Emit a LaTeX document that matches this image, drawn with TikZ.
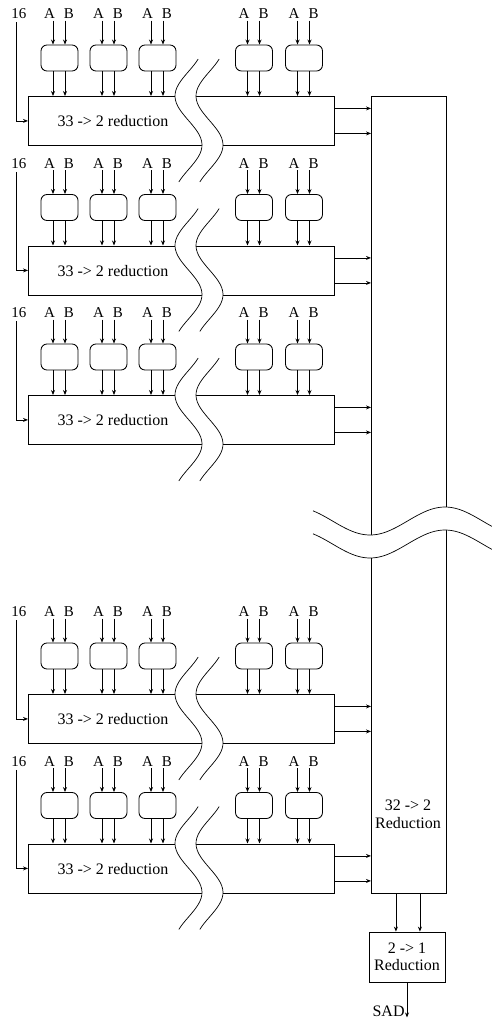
\documentclass[tikz,border=0pt]{standalone}
\usepackage{fontspec}
\setmainfont{Liberation Serif}
\usetikzlibrary{arrows.meta,calc}
\begin{document}
\begin{tikzpicture}[x=1pt,y=-1pt,
  line width=0.85pt,
  arr/.style={-{Stealth[length=5pt,width=4pt]}},
  lbl/.style={font=\fontsize{16}{18}\selectfont, inner sep=0pt},
  io/.style={font=\fontsize{15}{18}\selectfont, inner sep=0pt},
  pe/.style={draw, rounded corners=6pt, minimum width=37pt, minimum height=26pt, inner sep=0pt},
  redbox/.style={draw, minimum width=306pt, minimum height=49pt, inner sep=0pt},
  brk/.style={line width=0.7pt},
]
\useasboundingbox (0,0) rectangle (492,1020);
% 32 -> 2 reduction column
\node[draw, minimum width=75pt, minimum height=797pt, anchor=north west, inner sep=0pt] (vbox) at (371,96) {};
\node[lbl, align=center] (vtxt) at (408,814) {32 -> 2\\Reduction};
% blocks
\foreach \T [count=\i] in {96,245.5,395,694,843.5} {
  \node[redbox, anchor=north west] (red-\i) at (28,\T) {};
  \node[lbl] (rt-\i) at (113,\T+25.5) {33 -> 2 reduction};
  \node[io] (n16-\i) at (19,\T-82) {16};
  \draw[arr] ($(n16-\i.south)+(-3,3)$) |- (red-\i.west);
  \foreach \c [count=\j] in {59.5,108.5,157.5,254,304} {
    \node[pe] (pe-\i-\j) at (\c,\T-38) {};
    \node[io] (a-\i-\j) at (\c-10,\T-82) {A};
    \node[io] (b-\i-\j) at (\c+9.5,\T-82) {B};
    \coordinate (as-\i-\j) at ($(pe-\i-\j.north)+(-6.5,-24)$);
    \coordinate (bs-\i-\j) at ($(pe-\i-\j.north)+(5.5,-24)$);
    \draw[arr] (as-\i-\j) -- (as-\i-\j |- pe-\i-\j.north);
    \draw[arr] (bs-\i-\j) -- (bs-\i-\j |- pe-\i-\j.north);
    \coordinate (pl-\i-\j) at ($(pe-\i-\j.south)+(-6.5,0)$);
    \coordinate (pr-\i-\j) at ($(pe-\i-\j.south)+(5.5,0)$);
    \draw[arr] (pl-\i-\j) -- (pl-\i-\j |- red-\i.north);
    \draw[arr] (pr-\i-\j) -- (pr-\i-\j |- red-\i.north);
  }
  % outputs to the 32 -> 2 column
  \coordinate (o1-\i) at ($(red-\i.east)+(0,-12.5)$);
  \coordinate (o2-\i) at ($(red-\i.east)+(0,12.5)$);
  \draw[arr] (o1-\i) -- (o1-\i -| vbox.west);
  \draw[arr] (o2-\i) -- (o2-\i -| vbox.west);
  % break marks
  \fill[white] plot[domain=-37:86,samples=40,variable=\t] ({188.5-13.5*cos(3.6735*\t)},{\T+\t})
     -- plot[domain=86:-37,samples=40,variable=\t] ({209.5-13.5*cos(3.6735*\t)},{\T+\t}) -- cycle;
  \draw[brk] plot[domain=-37:86,samples=40,variable=\t,smooth] ({188.5-13.5*cos(3.6735*\t)},{\T+\t});
  \draw[brk] plot[domain=-37:86,samples=40,variable=\t,smooth] ({209.5-13.5*cos(3.6735*\t)},{\T+\t});
}
% break of the column
\fill[white] plot[domain=313:492,samples=40,variable=\u] (\u,{521+14*cos(2.4*(\u-370))})
   -- plot[domain=492:313,samples=40,variable=\u] (\u,{544+14*cos(2.4*(\u-370))}) -- cycle;
\draw[brk] plot[domain=313:492,samples=40,variable=\u,smooth] (\u,{521+14*cos(2.4*(\u-370))});
\draw[brk] plot[domain=313:492,samples=40,variable=\u,smooth] (\u,{544+14*cos(2.4*(\u-370))});
% 2 -> 1 reduction
\node[draw, minimum width=76pt, minimum height=50pt, inner sep=0pt, align=center, font=\fontsize{16}{17}\selectfont] (r21) at (407,957) {2 -> 1\\Reduction};
\coordinate (v1) at ($(vbox.south)+(-13,0)$);
\coordinate (v2) at ($(vbox.south)+(11,0)$);
\draw[arr] (v1) -- (v1 |- r21.north);
\draw[arr] (v2) -- (v2 |- r21.north);
\coordinate (sadend) at ($(r21.south)+(0,35)$);
\draw[arr] (r21.south) -- (sadend);
\node[lbl, anchor=base east] (sad) at ($(sadend)+(-2,-1)$) {SAD};
\end{tikzpicture}
\end{document}
